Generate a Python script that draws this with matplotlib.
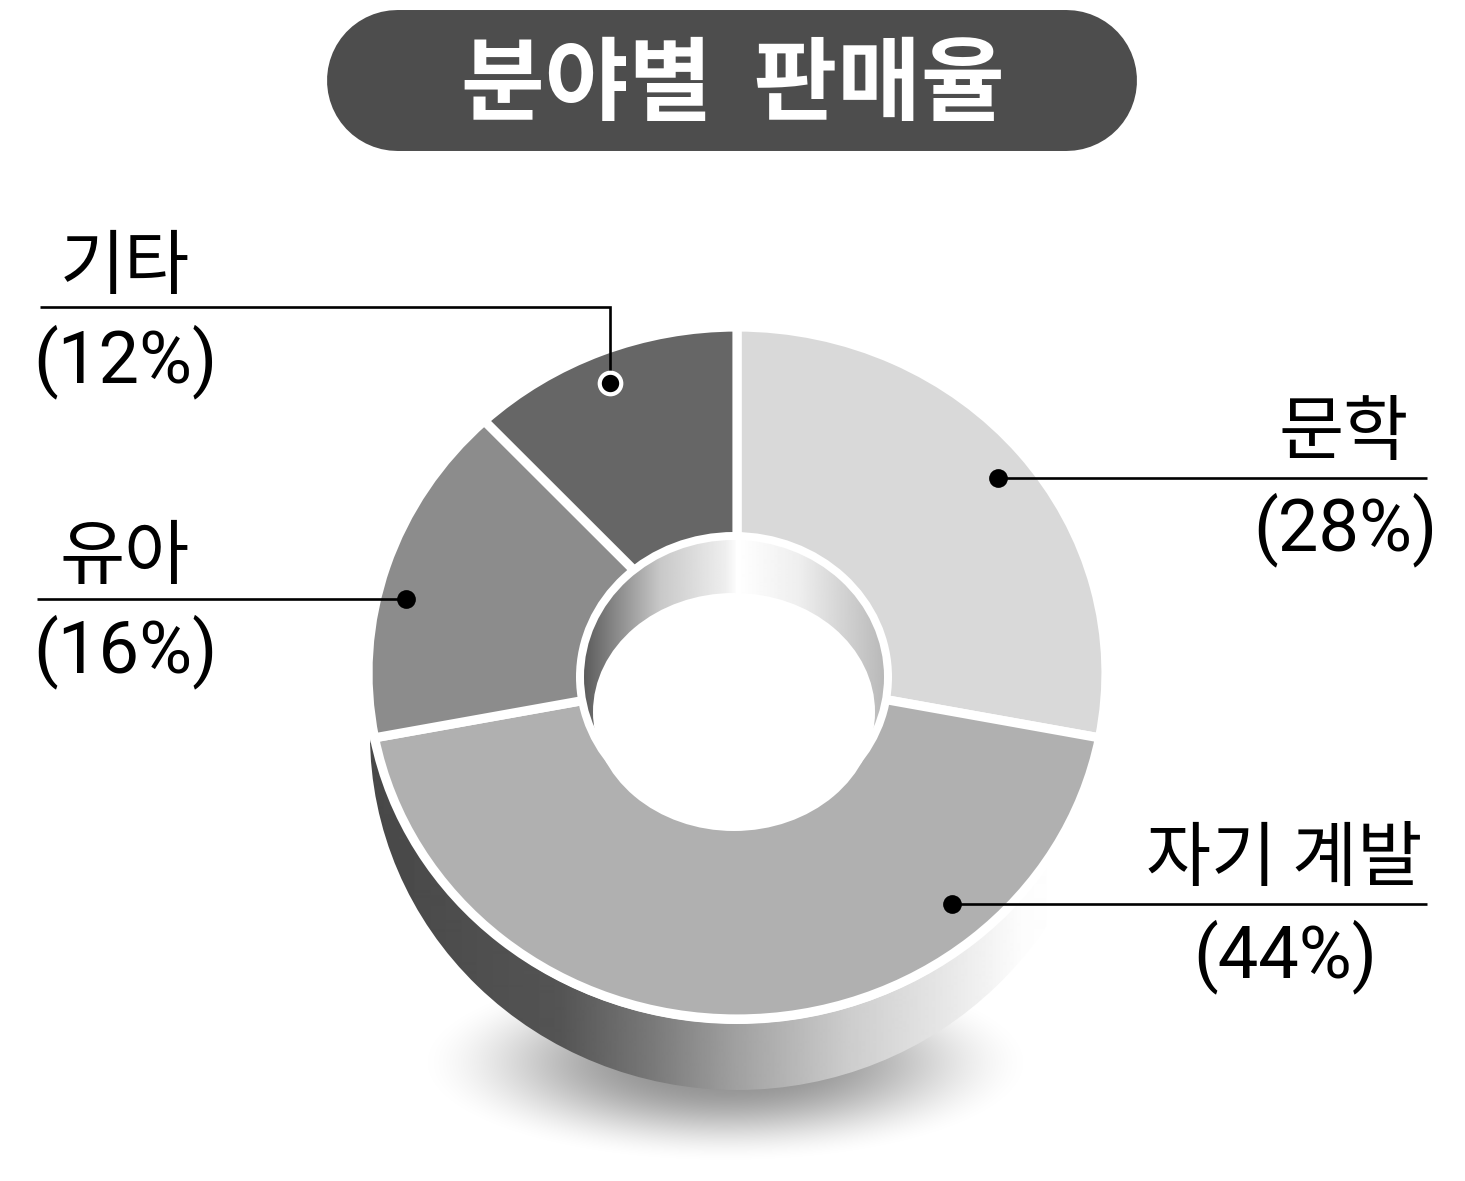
import numpy as np
import matplotlib
matplotlib.use("Agg")
import matplotlib.pyplot as plt
from matplotlib.patches import Ellipse

# data
categories = ["문학", "자기 계발", "유아", "기타"]
shares = [28, 44, 16, 12]
slice_colors = ["#d9d9d9", "#b0b0b0", "#8c8c8c", "#666666"]
title = "분야별  판매율"

W, H = 1465, 1181
plt.rcParams["font.family"] = ["Roboto", "Noto Sans CJK KR"]

fig = plt.figure(figsize=(W / 100, H / 100), dpi=100, facecolor="white")


def pixel_axes(zorder):
    ax = fig.add_axes([0, 0, 1, 1], zorder=zorder)
    ax.set_xlim(0, W)
    ax.set_ylim(H, 0)
    ax.axis("off")
    return ax


def gradient(ax, x0, x1, y0, y1, stops_x, stops_v, clip, z):
    xs = np.arange(x0, x1)
    row = np.interp(xs, stops_x, stops_v)
    im = ax.imshow(row[np.newaxis, :], extent=(x0, x1, y1, y0), cmap="gray",
                   vmin=0, vmax=255, aspect="auto", interpolation="bilinear", zorder=z)
    im.set_clip_path(clip)


back = pixel_axes(1)

# soft shadow under the disc
sx, sy = np.meshgrid(np.arange(400, 1060), np.arange(950, 1178))
r = np.sqrt(((sx - 725) / 312) ** 2 + ((sy - 1062) / 102) ** 2)
t = np.clip((1 - r) / 0.8, 0, 1)
alpha = 0.42 * t * t * (3 - 2 * t)
rgba = np.zeros(sx.shape + (4,))
rgba[..., 3] = alpha
back.imshow(rgba, extent=(400, 1060, 1178, 950), aspect="auto", zorder=0)

# side wall of the disc
wall = Ellipse((737, 735), 734, 710, fc="none", ec="none")
back.add_patch(wall)
gradient(back, 370, 1105, 380, 1095,
         [372, 560, 650, 735, 850, 950, 1020, 1060],
         [72, 84, 120, 160, 205, 232, 252, 255], wall, 1)
back.add_patch(Ellipse((737, 676), 738, 696, fc="white", ec="none", zorder=2))
back.set_xlim(0, W)
back.set_ylim(H, 0)

# donut, elliptical because the axes box is not square
cx, cy, rx, ry = 737, 673, 369, 346
pie_ax = fig.add_axes([(cx - rx) / W, 1 - (cy + ry) / H, 2 * rx / W, 2 * ry / H], zorder=2)
pie_ax.pie(shares, colors=slice_colors, startangle=90, counterclock=False, radius=1,
           wedgeprops=dict(width=0.65, edgecolor="white", linewidth=6.6))
pie_ax.set_aspect("auto")
pie_ax.set_xlim(-1, 1)
pie_ax.set_ylim(-1, 1)

front = pixel_axes(3)

# hole with its inner wall
front.add_patch(Ellipse((734, 677), 316, 290, fc="white", ec="none", zorder=1))
inner = Ellipse((734, 677), 300, 274, fc="none", ec="none")
front.add_patch(inner)
gradient(front, 580, 890, 535, 830,
         [584, 660, 725, 738, 800, 884],
         [92, 200, 238, 255, 238, 185], inner, 2)
front.add_patch(Ellipse((734, 712), 282, 238, fc="white", ec="none", zorder=3))
front.plot([737.5, 737.5], [530, 596], color="white", lw=3, solid_capstyle="butt", zorder=4)
front.set_xlim(0, W)
front.set_ylim(H, 0)

# title pill
front.plot([396.8, 1065.8], [79.8, 79.8], color="#4d4d4d", lw=101.5, solid_capstyle="round", zorder=5)
front.text(733, 86, title, color="white", fontsize=65.5, fontweight="bold",
           family="Noto Sans CJK KR", ha="center", va="center", zorder=6)

# labels and leader lines, same order as categories
name_pos = [(1344, 433), (1284, 860), (125, 558), (125, 267)]
pct_pos = [(1345, 530), (1285, 957), (125, 652), (125, 362)]
leader_x = [[998, 1427], [952, 1427], [37, 406], [40, 610, 610]]
leader_y = [[478, 478], [904, 904], [599, 599], [307, 307, 383]]

for i, name in enumerate(categories):
    front.plot(leader_x[i], leader_y[i], color="black", lw=1.9, solid_joinstyle="miter",
               solid_capstyle="butt", zorder=5)
    dot_x = leader_x[i][0] if i < 2 else leader_x[i][-1]
    dot_y = leader_y[i][0] if i < 2 else leader_y[i][-1]
    if name == "기타":
        front.plot([dot_x], [dot_y], "o", ms=15.5, mfc="black", mec="white", mew=3, zorder=6)
    else:
        front.plot([dot_x], [dot_y], "o", ms=13.5, mfc="black", mec="black", mew=0, zorder=6)
    front.text(*name_pos[i], name, fontsize=51, ha="center", va="center",
               color="black", family="Noto Sans CJK KR", zorder=6)
    front.text(*pct_pos[i], f"({shares[i]}%)", fontsize=52, ha="center", va="center",
               color="black", family=["Roboto", "Liberation Sans"], zorder=6)

fig.savefig("out.png", dpi=100, facecolor="white")
